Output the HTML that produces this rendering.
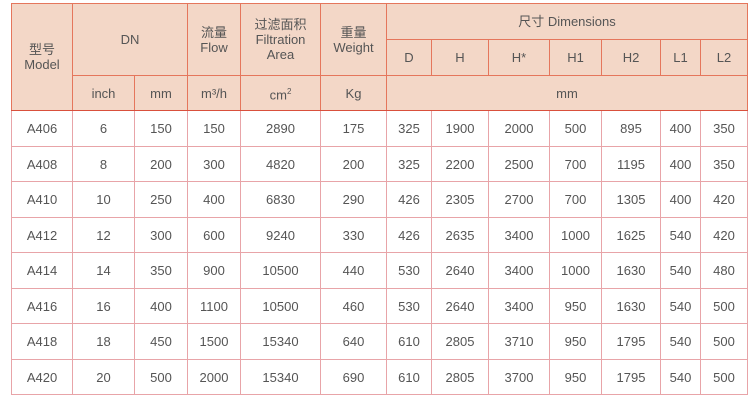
<!DOCTYPE html>
<html><head><meta charset="utf-8"><style>
html,body{margin:0;padding:0;background:#fff;width:756px;height:409px;overflow:hidden}
table{position:absolute;left:11px;top:3px;border-collapse:collapse;table-layout:fixed;font-family:"Liberation Sans","Noto Sans CJK SC",sans-serif;font-size:13px;color:#555}
td{border:1px solid #e8a4a8;text-align:center;vertical-align:middle;padding:0;line-height:15px}
.h td{background:#f3d7c7;border-color:#e5765c}
.h2 td{border-bottom:1.5px solid #d9503c}
table{border:1.5px solid #d9504c}
</style></head><body>
<table>
<colgroup><col style="width:61px"><col style="width:62px"><col style="width:53px"><col style="width:53px"><col style="width:80px"><col style="width:66px"><col style="width:45px"><col style="width:57px"><col style="width:61px"><col style="width:52px"><col style="width:59px"><col style="width:40px"><col style="width:47px"></colgroup>
<tr class="h" style="height:36px"><td rowspan="3" style="border-bottom:1.5px solid #d9503c">型号<br>Model</td><td colspan="2" rowspan="2">DN</td><td rowspan="2">流量<br>Flow</td><td rowspan="2">过滤面积<br>Filtration<br>Area</td><td rowspan="2">重量<br>Weight</td><td colspan="7">尺寸 Dimensions</td></tr>
<tr class="h" style="height:36px"><td>D</td><td>H</td><td>H*</td><td>H1</td><td>H2</td><td>L1</td><td>L2</td></tr>
<tr class="h h2" style="height:35px"><td>inch</td><td>mm</td><td>m³/h</td><td>cm<sup style="font-size:8px">2</sup></td><td>Kg</td><td colspan="7">mm</td></tr>
<tr style="height:36px"><td>A406</td><td>6</td><td>150</td><td>150</td><td>2890</td><td>175</td><td>325</td><td>1900</td><td>2000</td><td>500</td><td>895</td><td>400</td><td>350</td></tr>
<tr style="height:35px"><td>A408</td><td>8</td><td>200</td><td>300</td><td>4820</td><td>200</td><td>325</td><td>2200</td><td>2500</td><td>700</td><td>1195</td><td>400</td><td>350</td></tr>
<tr style="height:36px"><td>A410</td><td>10</td><td>250</td><td>400</td><td>6830</td><td>290</td><td>426</td><td>2305</td><td>2700</td><td>700</td><td>1305</td><td>400</td><td>420</td></tr>
<tr style="height:35px"><td>A412</td><td>12</td><td>300</td><td>600</td><td>9240</td><td>330</td><td>426</td><td>2635</td><td>3400</td><td>1000</td><td>1625</td><td>540</td><td>420</td></tr>
<tr style="height:36px"><td>A414</td><td>14</td><td>350</td><td>900</td><td>10500</td><td>440</td><td>530</td><td>2640</td><td>3400</td><td>1000</td><td>1630</td><td>540</td><td>480</td></tr>
<tr style="height:35px"><td>A416</td><td>16</td><td>400</td><td>1100</td><td>10500</td><td>460</td><td>530</td><td>2640</td><td>3400</td><td>950</td><td>1630</td><td>540</td><td>500</td></tr>
<tr style="height:36px"><td>A418</td><td>18</td><td>450</td><td>1500</td><td>15340</td><td>640</td><td>610</td><td>2805</td><td>3710</td><td>950</td><td>1795</td><td>540</td><td>500</td></tr>
<tr style="height:35px"><td>A420</td><td>20</td><td>500</td><td>2000</td><td>15340</td><td>690</td><td>610</td><td>2805</td><td>3700</td><td>950</td><td>1795</td><td>540</td><td>500</td></tr>
</table>
</body></html>
